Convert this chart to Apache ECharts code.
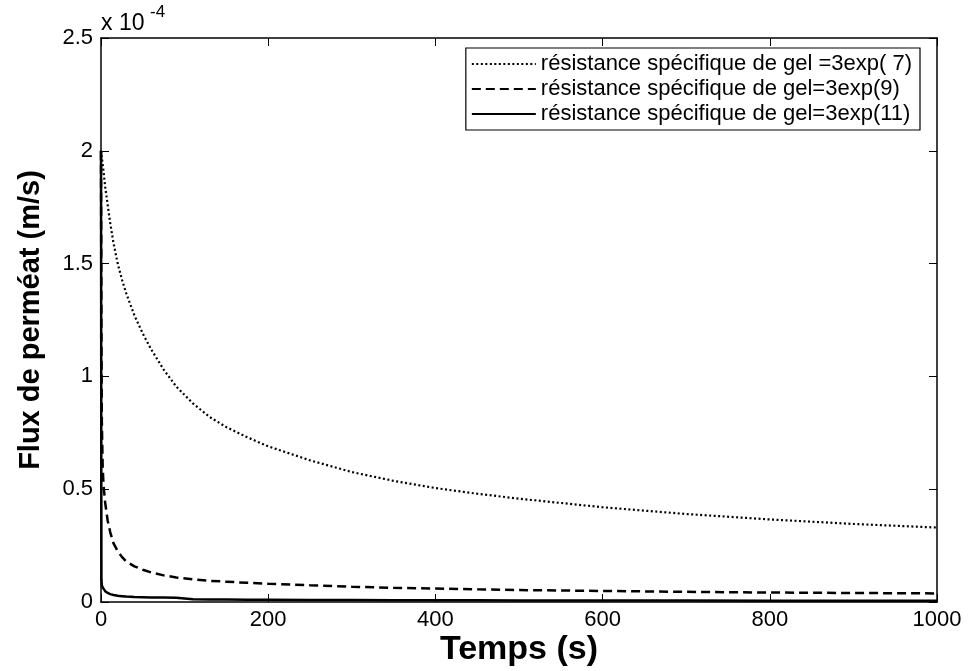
<!DOCTYPE html>
<html>
<head>
<meta charset="utf-8">
<script src="https://cdn.jsdelivr.net/npm/echarts@6/dist/echarts.min.js"></script>
<style>
html,body{margin:0;padding:0;background:#fff;}
#chart{width:972px;height:671px;}
</style>
</head>
<body>
<div id="chart"></div>
<script>
// Time (s)
var timeValues = [0, 0.5, 1, 2, 3, 5, 8, 11, 15, 20, 25, 30, 40, 50, 60, 75, 90, 110, 130, 150, 175, 200, 250, 300, 350, 400, 450, 500, 600, 700, 800, 900, 1000];
// Flux (x 1e-4 m/s)
var fluxGel7 = [2.0, 1.985, 1.97, 1.94, 1.91, 1.84, 1.76, 1.68, 1.59, 1.50, 1.43, 1.37, 1.27, 1.19, 1.12, 1.03, 0.955, 0.88, 0.82, 0.775, 0.73, 0.69, 0.628, 0.576, 0.537, 0.505, 0.48, 0.458, 0.42, 0.39, 0.366, 0.346, 0.33];
var fluxGel9 = [2.0, 1.2, 0.8, 0.6, 0.52, 0.44, 0.36, 0.31, 0.26, 0.225, 0.20, 0.18, 0.158, 0.143, 0.131, 0.118, 0.109, 0.10, 0.094, 0.09, 0.085, 0.081, 0.074, 0.068, 0.063, 0.06, 0.056, 0.053, 0.049, 0.045, 0.042, 0.04, 0.038];
var fluxGel11 = [2.0, 0.1, 0.075, 0.065, 0.058, 0.048, 0.04, 0.035, 0.031, 0.028, 0.026, 0.024, 0.022, 0.021, 0.02, 0.02, 0.019, 0.012, 0.011, 0.011, 0.010, 0.010, 0.009, 0.009, 0.008, 0.008, 0.008, 0.007, 0.007, 0.007, 0.006, 0.006, 0.006];
var seriesNames = ['résistance spécifique de gel =3exp( 7)', 'résistance spécifique de gel=3exp(9)', 'résistance spécifique de gel=3exp(11)'];
var xTicks = [0, 200, 400, 600, 800, 1000];
var yTicks = [0, 0.5, 1, 1.5, 2, 2.5];

function pairs(ys){ return timeValues.map(function(t,i){ return [t, ys[i]]; }); }

var FONT = 'Liberation Sans, Arial, sans-serif';
var chart = echarts.init(document.getElementById('chart'), null, {renderer:'canvas'});

var axisCommon = {
  axisLine:{show:true, onZero:false, lineStyle:{color:'#000', width:1.5}},
  axisTick:{show:true, inside:true, length:8, lineStyle:{color:'#000', width:1}},
  splitLine:{show:false}
};

chart.setOption({
  backgroundColor:'#fff',
  animation:false,
  color:['#000','#000','#000'],
  grid:{left:101, right:35, top:38, bottom:69, containLabel:false, outerBoundsMode:'none'},
  xAxis:[
    Object.assign({type:'value', min:0, max:1000, interval:200, position:'bottom',
      axisLabel:{color:'#000', fontSize:22, fontFamily:FONT, margin:7,
        formatter:function(v){ return xTicks.indexOf(v)>=0 ? String(v) : ''; }},
      name:'Temps (s)', nameLocation:'middle', nameGap:31, nameMoveOverlap:false,
      nameTextStyle:{color:'#000', fontSize:34, fontWeight:'bold', fontFamily:FONT}
    }, axisCommon),
    Object.assign({type:'value', min:0, max:1000, interval:200, position:'top', axisLabel:{show:false}}, axisCommon)
  ],
  yAxis:[
    Object.assign({type:'value', min:0, max:2.5, interval:0.5, position:'left',
      axisLabel:{color:'#000', fontSize:22, fontFamily:FONT, margin:8,
        formatter:function(v){ return yTicks.indexOf(v)>=0 ? String(v) : ''; }},
      name:'Flux de perméat (m/s)', nameLocation:'middle', nameGap:56, nameRotate:90, nameMoveOverlap:false,
      nameTextStyle:{color:'#000', fontSize:29, fontWeight:'bold', fontFamily:FONT}
    }, axisCommon),
    Object.assign({type:'value', min:0, max:2.5, interval:0.5, position:'right', axisLabel:{show:false}}, axisCommon)
  ],
  legend:{
    orient:'vertical', right:52, top:48,
    backgroundColor:'#fff', borderColor:'#000', borderWidth:1.2,
    padding:[5,8,5,5], itemGap:3, itemWidth:64, itemHeight:14,
    itemStyle:{opacity:0},
    textStyle:{color:'#000', fontSize:22, fontFamily:FONT},
    data:seriesNames
  },
  graphic:[
    {type:'text', left:101, top:12, style:{text:'x 10', fontSize:23, fontFamily:FONT, fill:'#000'}},
    {type:'text', left:150, top:4, style:{text:'-4', fontSize:17, fontFamily:FONT, fill:'#000'}}
  ],
  series:[
    {name:seriesNames[0], type:'line', data:pairs(fluxGel7), symbol:'none', smooth:false,
      itemStyle:{color:'#000'},
      lineStyle:{color:'#000', width:2.2, type:[2,2.5]}},
    {name:seriesNames[1], type:'line', data:pairs(fluxGel9), symbol:'none', smooth:false,
      itemStyle:{color:'#000'},
      lineStyle:{color:'#000', width:2.5, type:[9,5]}},
    {name:seriesNames[2], type:'line', data:pairs(fluxGel11), symbol:'none', smooth:false,
      itemStyle:{color:'#000'},
      lineStyle:{color:'#000', width:2.5, type:'solid'}}
  ]
});
</script>
</body>
</html>
